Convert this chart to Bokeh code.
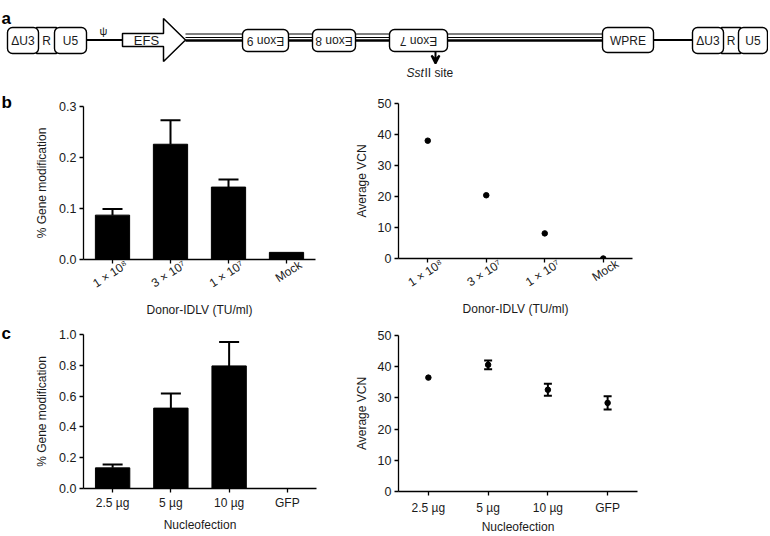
import math
from bokeh.plotting import figure
from bokeh.layouts import column, row
from bokeh.models import (Range1d, FixedTicker, PrintfTickFormatter, Whisker,
                          TeeHead, ColumnDataSource, LinearAxis, Arrow, VeeHead)
from bokeh.core.properties import value
from bokeh.embed import file_html
from bokeh.resources import INLINE

FONT = "Liberation Sans"
TXT = "#1a1a1a"

# ---------------- data ----------------
titer_cats = ["1 × 10⁸", "3 × 10⁷", "1 × 10⁷", "Mock"]
gene_mod_b = [0.087, 0.226, 0.142, 0.014]
gene_mod_b_err = [0.012, 0.047, 0.015, 0.0]
vcn_b = [38.0, 20.4, 8.1, 0.0]

nucleo_cats = ["2.5 µg", "5 µg", "10 µg", "GFP"]
gene_mod_c = [0.134, 0.522, 0.796, 0.0]
gene_mod_c_err = [0.022, 0.095, 0.156, 0.0]
vcn_c = [36.5, 40.6, 32.6, 28.4]
vcn_c_err = [0.0, 1.4, 1.9, 2.1]

yticks_b_left = [0.0, 0.1, 0.2, 0.3]
yticks_c_left = [0.0, 0.2, 0.4, 0.6, 0.8, 1.0]
yticks_vcn = [0, 10, 20, 30, 40, 50]

# ---------------- schematic (panel a) elements ----------------
round_boxes = dict(
    left=[7, 54, 242, 312, 389, 602, 692, 738],
    right=[38, 86, 288, 355, 447, 653, 723, 767],
    top=[27, 27, 29, 29, 29, 27, 27, 27],
    bottom=[53, 53, 51, 51, 51, 52, 53, 53],
)
square_boxes = dict(left=[36, 721], right=[56, 740], top=[27, 27], bottom=[53, 53])
box_text = dict(x=[22.5, 46, 70, 627.5, 707.5, 730.5, 752.5],
                y=[40] * 7,
                t=["ΔU3", "R", "U5", "WPRE", "ΔU3", "R", "U5"])
exon_text = dict(x=[265, 333.5, 418], y=[40, 40, 40], t=["Exon 9", "Exon 8", "Exon 7"])
single_lines = dict(x0=[86, 653], x1=[122, 692])
triple_x0 = [185, 288, 355, 447]
triple_x1 = [242, 312, 389, 602]


def blank(width, height, xr, yr):
    p = figure(width=width, height=height, x_range=Range1d(*xr), y_range=Range1d(*yr),
               x_axis_type=None, y_axis_type=None, output_backend="svg",
               toolbar_location=None, min_border=0, frame_align=False)
    p.outline_line_color = None
    p.xgrid.visible = False
    p.ygrid.visible = False
    return p


def make_schematic():
    p = blank(768, 80, (0, 768), (80, 0))
    p.segment(x0=single_lines["x0"], x1=single_lines["x1"], y0=[39.5] * 2, y1=[39.5] * 2,
              line_color="black", line_width=2)
    for yy, lw in ((33.5, 1.2), (37.0, 1.2), (40.0, 2.6)):
        p.segment(x0=triple_x0, x1=triple_x1, y0=[yy] * 4, y1=[yy] * 4,
                  line_color="black", line_width=lw)
    p.patch(x=[122, 163, 163, 185, 163, 163, 122], y=[33, 33, 18, 39.5, 61, 46, 46],
            fill_color="white", line_color="black", line_width=1.5)
    p.quad(source=ColumnDataSource(square_boxes), left="left", right="right", top="top",
           bottom="bottom", fill_color="white", line_color="black", line_width=1.4)
    p.quad(source=ColumnDataSource(round_boxes), left="left", right="right", top="top",
           bottom="bottom", fill_color="white", line_color="black", line_width=1.4,
           border_radius=5)
    p.text(source=ColumnDataSource(box_text), x="x", y="y", text="t",
           text_font=value(FONT), text_font_size="12px", text_align="center",
           text_baseline="middle", text_color=TXT)
    p.text(x=[146], y=[40], text=["EFS"], text_font=value(FONT), text_font_size="13px",
           text_align="center", text_baseline="middle", text_color=TXT)
    p.text(source=ColumnDataSource(exon_text), x="x", y="y", text="t", angle=math.pi,
           text_font=value(FONT), text_font_size="12px", text_align="center",
           text_baseline="middle", text_color=TXT)
    p.text(x=[103], y=[30], text=["ψ"], text_font=value(FONT), text_font_size="11px",
           text_align="center", text_baseline="middle", text_color=TXT)
    p.add_layout(Arrow(end=VeeHead(size=8, line_width=2, line_color="black"),
                       x_start=435, y_start=51, x_end=435, y_end=63,
                       line_width=2, line_color="black"))
    p.text(x=[406], y=[72], text=["Sst"], text_font=value(FONT), text_font_size="12px",
           text_font_style="italic", text_align="left", text_baseline="middle",
           text_color=TXT)
    p.text(x=[424], y=[72], text=["II site"], text_font=value(FONT), text_font_size="12px",
           text_align="left", text_baseline="middle", text_color=TXT)
    p.text(x=[1], y=[18], text=["a"], text_font=value(FONT), text_font_size="17px",
           text_font_style="bold", text_color="black", text_baseline="alphabetic")
    return p


def letter(ch, height, baseline):
    p = blank(12, height, (0, 12), (height, 0))
    p.text(x=[1], y=[baseline], text=[ch], text_font=value(FONT), text_font_size="17px",
           text_font_style="bold", text_color="black", text_baseline="alphabetic")
    return p


def style(p, ylabel, ylabel_standoff):
    p.outline_line_color = None
    p.xgrid.visible = False
    p.ygrid.visible = False
    for ax in (p.xaxis[0], p.yaxis[0]):
        ax.axis_line_color = "black"
        ax.axis_line_width = 1.3
        ax.major_tick_line_color = "black"
        ax.major_tick_line_width = 1.3
        ax.major_tick_out = 4
        ax.major_tick_in = 0
        ax.minor_tick_line_color = None
        ax.major_label_text_font = FONT
        ax.major_label_text_color = TXT
        ax.axis_label_text_font = FONT
        ax.axis_label_text_font_size = "12px"
        ax.axis_label_text_font_style = "normal"
        ax.axis_label_text_color = TXT
        ax.major_label_standoff = 3
    p.yaxis.major_label_text_font_size = "12.5px"
    p.xaxis.major_label_text_font_size = "12px"
    p.yaxis.axis_label = ylabel
    p.yaxis.axis_label_standoff = ylabel_standoff


def make_fig(cats, ymax, width, height, borders):
    l, r, t, b = borders
    n = len(cats)
    p = figure(width=width, height=height, x_range=Range1d(-0.5, n - 0.5),
               y_range=Range1d(0, ymax), output_backend="svg", toolbar_location=None,
               min_border_left=l, min_border_right=r, min_border_top=t,
               min_border_bottom=b, frame_align=False)
    p.xaxis.ticker = FixedTicker(ticks=list(range(n)))
    return p


def set_xlabels(p, cats, xlabel, rotate, width, borders, xstand, lstand=3):
    main = p.xaxis[0]
    if not rotate:
        main.major_label_overrides = {i: c for i, c in enumerate(cats)}
        main.major_label_standoff = lstand
        main.axis_label = xlabel
        main.axis_label_standoff = xstand
        return
    # main axis keeps line + ticks; slanted labels come from a second, shifted axis
    main.major_label_text_font_size = "1px"
    main.major_label_text_color = None
    main.major_label_standoff = 0
    fw = width - borders[0] - borders[1]
    unit = fw / len(cats)
    shift = 14 / unit
    p.extra_x_ranges = {"lbl": Range1d(-0.5 - shift, len(cats) - 0.5 - shift)}
    ax = LinearAxis(x_range_name="lbl", ticker=FixedTicker(ticks=list(range(len(cats)))),
                    major_label_overrides={i: c for i, c in enumerate(cats)})
    ax.axis_line_color = None
    ax.major_tick_line_color = None
    ax.minor_tick_line_color = None
    ax.major_tick_out = 0
    ax.major_tick_in = 0
    ax.major_label_orientation = 0.58
    ax.major_label_standoff = 0
    ax.major_label_text_font = FONT
    ax.major_label_text_font_size = "12px"
    ax.major_label_text_color = TXT
    ax.axis_label = xlabel
    ax.axis_label_standoff = xstand
    ax.axis_label_text_font = FONT
    ax.axis_label_text_font_size = "12px"
    ax.axis_label_text_font_style = "normal"
    ax.axis_label_text_color = TXT
    p.add_layout(ax, "below")


def bar_panel(cats, vals, errs, yticks, ymax, xlabel, rotate, width, height, borders,
              xstand, lstand=3):
    p = make_fig(cats, ymax, width, height, borders)
    xs = list(range(len(cats)))
    p.vbar(x=xs, top=vals, width=0.59, fill_color="black", line_color="black")
    esrc = ColumnDataSource(dict(
        x=[i for i, e in zip(xs, errs) if e > 0],
        lo=[v for v, e in zip(vals, errs) if e > 0],
        up=[v + e for v, e in zip(vals, errs) if e > 0]))
    p.add_layout(Whisker(source=esrc, base="x", lower="lo", upper="up", line_width=2,
                         line_color="black", lower_head=None,
                         upper_head=TeeHead(size=20, line_width=2, line_color="black")))
    style(p, "% Gene modification", 7)
    p.yaxis.ticker = FixedTicker(ticks=yticks)
    p.yaxis.formatter = PrintfTickFormatter(format="%.1f")
    set_xlabels(p, cats, xlabel, rotate, width, borders, xstand, lstand)
    return p


def vcn_panel(cats, vals, errs, xlabel, rotate, width, height, borders, xstand, lstand=3):
    p = make_fig(cats, 50, width, height, borders)
    xs = list(range(len(cats)))
    if errs is not None:
        esrc = ColumnDataSource(dict(
            x=[i for i, e in zip(xs, errs) if e > 0],
            lo=[v - e for v, e in zip(vals, errs) if e > 0],
            up=[v + e for v, e in zip(vals, errs) if e > 0]))
        p.add_layout(Whisker(source=esrc, base="x", lower="lo", upper="up", line_width=2,
                             line_color="black",
                             lower_head=TeeHead(size=8, line_width=2, line_color="black"),
                             upper_head=TeeHead(size=8, line_width=2, line_color="black")))
    p.scatter(x=xs, y=vals, size=5.5, marker="circle", fill_color="black",
              line_color="black")
    style(p, "Average VCN", 6)
    p.yaxis.ticker = FixedTicker(ticks=yticks_vcn)
    set_xlabels(p, cats, xlabel, rotate, width, borders, xstand, lstand)
    return p


B_LB = (71, 25, 26, 60)
B_RB = (58, 136, 23, 62)
B_LC = (71, 24, 14, 48)
B_RC = (58, 131, 15, 43)

pa = make_schematic()
lb = bar_panel(titer_cats, gene_mod_b, gene_mod_b_err, yticks_b_left, 0.3,
               "Donor-IDLV (TU/ml)", True, 328, 240, B_LB, 4)
rb = vcn_panel(titer_cats, vcn_b, None, "Donor-IDLV (TU/ml)", True, 428, 240, B_RB, 4)
lc = bar_panel(nucleo_cats, gene_mod_c, gene_mod_c_err, yticks_c_left, 1.0,
               "Nucleofection", False, 328, 216, B_LC, 5, 3)
rc = vcn_panel(nucleo_cats, vcn_c, vcn_c_err, "Nucleofection", False, 428, 216, B_RC, 2, 5)

layout = column(pa,
                row(letter("b", 240, 22), lb, rb),
                row(letter("c", 216, 13), lc, rc))
open("out.html", "w").write(file_html(layout, INLINE))
